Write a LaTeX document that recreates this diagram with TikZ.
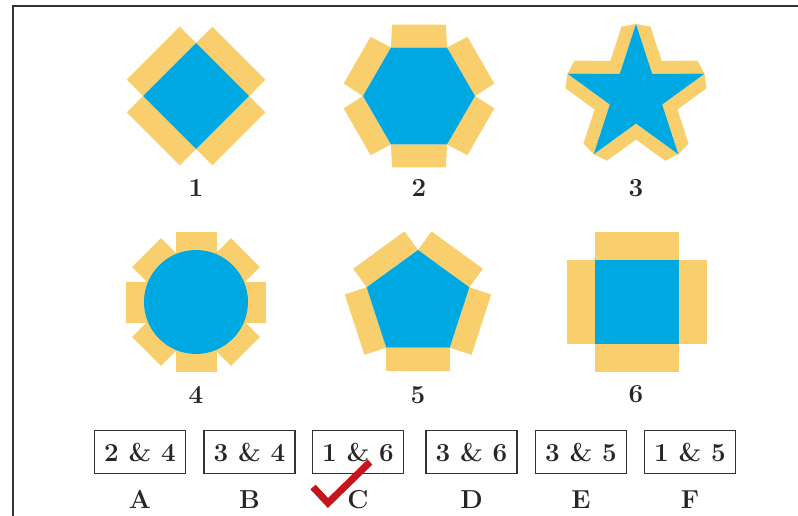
\documentclass[tikz,border=0pt]{standalone}
\usepackage{tikz}
\usetikzlibrary{positioning,calc}
\definecolor{netblue}{HTML}{00A8E1}
\definecolor{tabyellow}{HTML}{F8CF6C}
\definecolor{tickred}{HTML}{C4161C}
\definecolor{inkgray}{HTML}{333333}
% #1,#2 centre, #3 corners, #4 outer radius, #5 inner radius,
% #6 first angle, #7 flap depth, #8 flap end inset
\newcommand{\flapnet}[8]{%
  \foreach \k in {1,...,#3}{
    \pgfmathsetmacro\angA{#6+(\k-1)*360/#3}
    \pgfmathsetmacro\radA{mod(\k-1,2)==0 ? #4 : #5}
    \coordinate (v\k) at ($(#1,#2)+(\angA:\radA)$);
  }
  \foreach \k [evaluate=\k as \j using {int(mod(\k,#3)+1)}] in {1,...,#3}{
    \coordinate (ea) at ($(v\k)!#8!(v\j)$);
    \coordinate (eb) at ($(v\j)!#8!(v\k)$);
    \fill[tab] (v\k) -- (v\j) -- ($(eb)!#7!-90:(v\k)$) -- ($(ea)!#7!90:(v\j)$) -- cycle;
  }
  \fill[face] (v1) \foreach \k in {2,...,#3}{ -- (v\k)} -- cycle;
}

\begin{document}
\begin{tikzpicture}[
  x=1pt, y=-1pt,
  font=\fontsize{26}{30}\selectfont\bfseries,
  tab/.style={fill=tabyellow},
  face/.style={fill=netblue},
  frame/.style={draw=inkgray, line width=2.5pt},
  numlab/.style={inner sep=0pt, text=black!85},
  choice/.style={draw=inkgray, line width=1.4pt, minimum width=91pt, minimum height=43pt, inner sep=0pt, text=black!85},
  letlab/.style={inner sep=0pt, text=black!85},
  tick/.style={draw=tickred, line width=7pt}
]
\useasboundingbox (0,0) rectangle (798,516);
\def\xA{196}\def\xB{419}\def\xC{636}
\def\ya{96}\def\yb{302}

% ================= FRAME =================
\draw[frame] (13,516) -- (13,6) -- (798,6);

% ================= ROW 1 =================
\flapnet{\xA}{\ya}{4}{53}{53}{0}{23pt}{0pt}
\flapnet{\xB}{\ya}{6}{56}{56}{0}{23pt}{1pt}
\flapnet{\xC}{\ya}{10}{72}{27.5}{-90}{13pt}{7pt}
\node[numlab] (n1) at (\xA,188) {1};
\node[numlab] (n2) at (\xB,188) {2};
\node[numlab] (n3) at (\xC,188) {3};

% ================= ROW 2 =================
\coordinate (c4) at (\xA,\yb);
\foreach \a in {0,45,...,315}
  \fill[tab, rotate around={\a:(c4)}] ($(c4)+(-20.5,0)$) rectangle ($(c4)+(20.5,-70)$);
\fill[face] (c4) circle[radius=52];
\flapnet{418}{304}{5}{54}{54}{-90}{23pt}{0pt}
\flapnet{637}{302}{4}{59.4}{59.4}{45}{28pt}{0pt}
\node[numlab] (n4) at (\xA,395) {4};
\node[numlab] (n5) at (418,395) {5};
\node[numlab] (n6) at (\xC,394) {6};

% ================= CHOICES =================
\foreach \x/\l/\t in {140/A/2 \& 4, 249.5/B/3 \& 4, 358/C/1 \& 6, 471.5/D/3 \& 6, 581/E/3 \& 5, 690/F/1 \& 5}{
  \node[choice] (box\l) at (\x,452) {\t};
  \node[letlab, below=16pt of box\l] (let\l) {\l};
}
\draw[tick] (313,487) -- (328,503) -- (370,462);

\end{tikzpicture}
\end{document}
